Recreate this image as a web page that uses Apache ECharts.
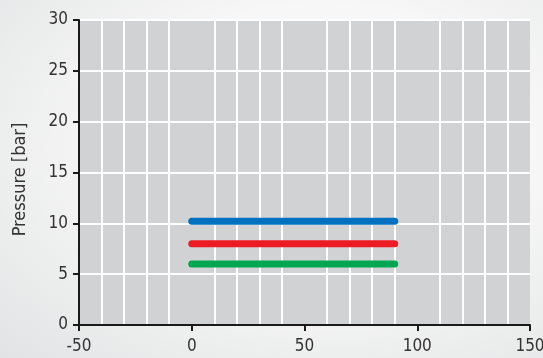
<!DOCTYPE html>
<html><head><meta charset="utf-8">
<script src="https://cdn.jsdelivr.net/npm/echarts@6/dist/echarts.min.js"></script>
<style>
html,body{margin:0;padding:0;}
body{width:543px;height:358px;background:radial-gradient(ellipse at 60% 40%, #ffffff 0%, #f7f7f7 45%, #e2e3e4 100%);}
#c{width:543px;height:358px;}
</style></head><body>
<div id="c"></div>
<script>
const xRange = [-50, 150];
const yRange = [0, 30];
const xStart = 0, xEnd = 90;
const blueY = 10.2;
const redY = 8;
const greenY = 6;
const seriesNames = ['Blue', 'Red', 'Green'];
const seriesValues = [blueY, redY, greenY];
const seriesColors = ['#0070c0', '#ed1c24', '#00a651'];

const font = '"Liberation Sans Narrow", "DejaVu Sans Condensed", "Liberation Sans", sans-serif';
const chart = echarts.init(document.getElementById('c'), null, {renderer: 'canvas'});
chart.setOption({
  backgroundColor: 'transparent',
  animation: false,
  grid: {left: 79, right: 13, top: 20, bottom: 33, show: true, backgroundColor: '#d1d2d4', borderWidth: 0,
         containLabel: false, outerBoundsMode: 'none'},
  xAxis: {
    type: 'value', min: xRange[0], max: xRange[1], interval: 50,
    axisLine: {show: true, onZero: false, lineStyle: {color: '#1a1a1a', width: 2}},
    axisTick: {show: true, length: 6, lineStyle: {color: '#1a1a1a', width: 2}},
    axisLabel: {color: '#333', fontSize: 17, fontFamily: font, margin: 13},
    splitLine: {show: false},
    minorTick: {show: false, splitNumber: 5},
    minorSplitLine: {show: true, lineStyle: {color: '#ffffff', width: 2}}
  },
  yAxis: {
    type: 'value', min: yRange[0], max: yRange[1], interval: 5,
    name: 'Pressure [bar]', nameLocation: 'middle', nameGap: 50,
    nameTextStyle: {color: '#333', fontSize: 18, fontFamily: font, padding: [0, 14, 0, 0]},
    axisLine: {show: true, onZero: false, lineStyle: {color: '#1a1a1a', width: 2}},
    axisTick: {show: true, length: 6, lineStyle: {color: '#1a1a1a', width: 2}},
    axisLabel: {color: '#333', fontSize: 17, fontFamily: font, margin: 11},
    splitLine: {show: true, lineStyle: {color: '#ffffff', width: 2}}
  },
  series: seriesValues.map((v, i) => ({
    name: seriesNames[i], type: 'line', symbol: 'none',
    data: [[xStart, v], [xEnd, v]],
    lineStyle: {color: seriesColors[i], width: 7, cap: 'round'}
  }))
});
</script>
</body></html>
